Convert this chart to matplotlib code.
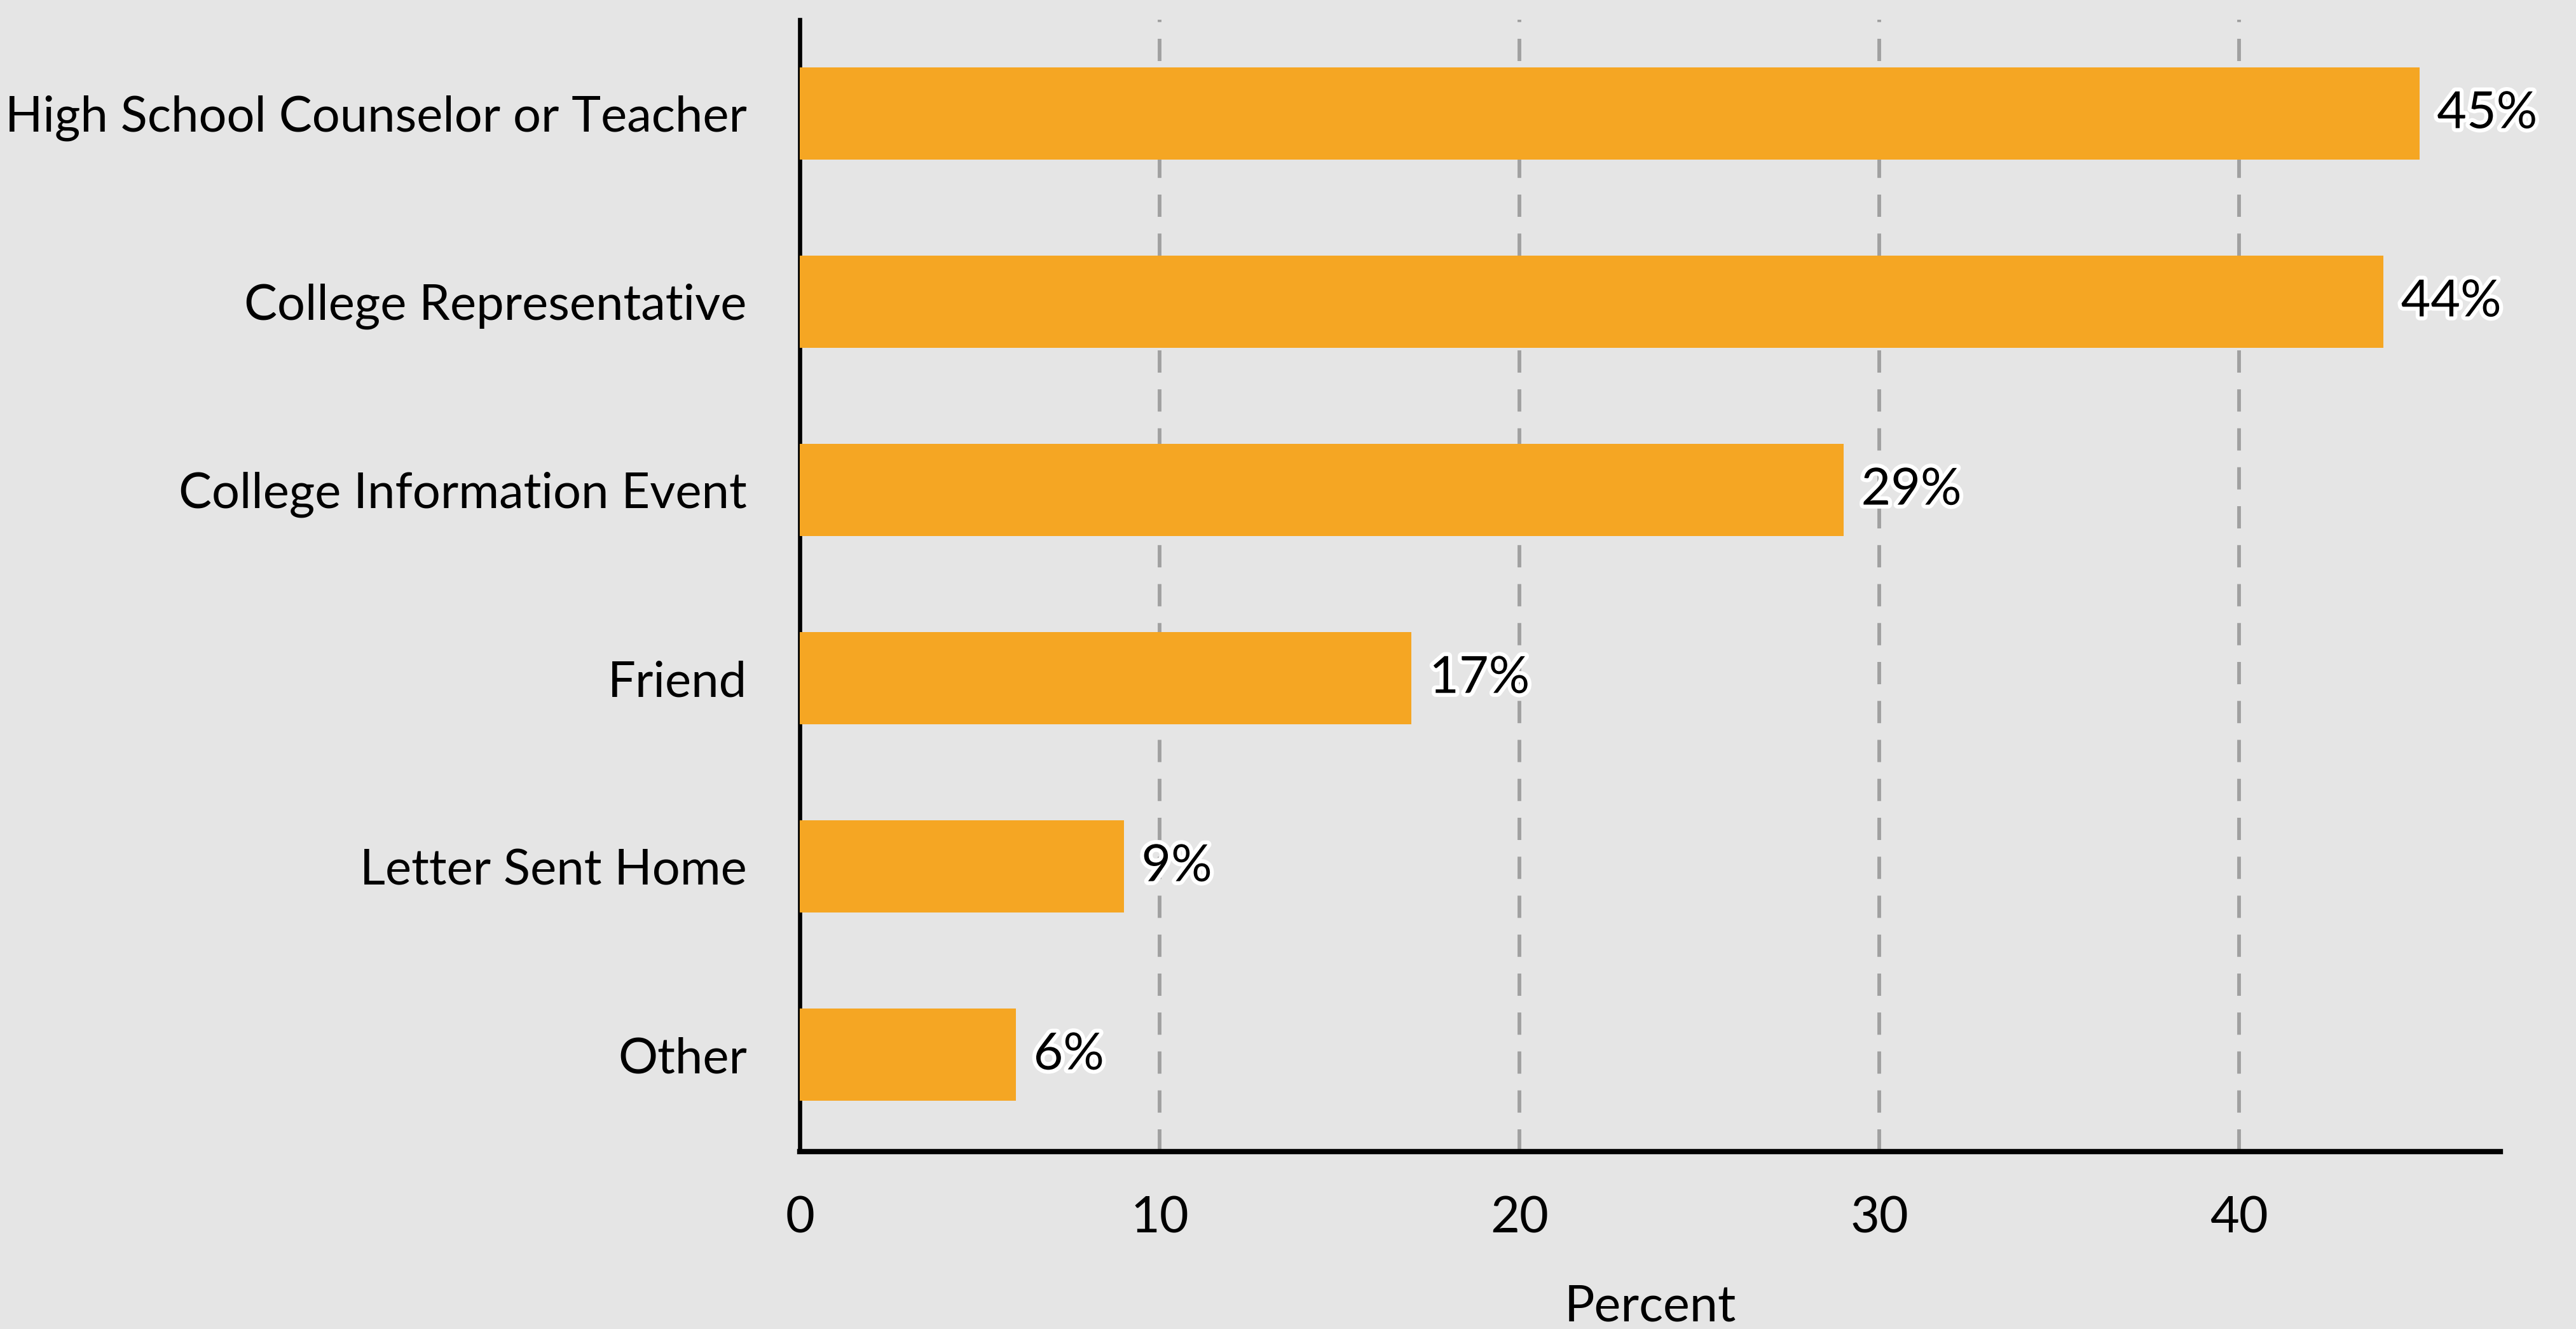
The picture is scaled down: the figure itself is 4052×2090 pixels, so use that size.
import matplotlib
matplotlib.use("Agg")
import matplotlib.pyplot as plt
import matplotlib.patheffects as pe

categories = ["High School Counselor or Teacher", "College Representative",
              "College Information Event", "Friend", "Letter Sent Home", "Other"]
values = [45, 44, 29, 17, 9, 6]
xticks = [0, 10, 20, 30, 40]

plt.rcParams['font.family'] = ['Lato', 'DejaVu Sans']
BG = "#e5e5e5"
BAR = "#f5a623"

fig = plt.figure(figsize=(40.52 / 2, 20.90 / 2), dpi=200, facecolor=BG)
ax = fig.add_axes([0.3105, 0.1334, 0.9706 - 0.3105, 0.985 - 0.1334])
ax.set_facecolor(BG)

cats = categories[::-1]
vals = values[::-1]
ypos = list(range(len(cats)))
ax.barh(ypos, vals, height=0.49, color=BAR, zorder=3)

for y, v in zip(ypos, vals):
    ax.annotate(f"{v}%", xy=(v, y), xytext=(10, 0), textcoords="offset points",
                va="center", ha="left", fontsize=29, color="black", zorder=5,
                path_effects=[pe.withStroke(linewidth=4.5, foreground="white")])

ax.set_yticks(ypos)
ax.set_yticklabels(cats, fontsize=28.0)
ax.set_xticks(xticks)
ax.set_xticklabels([str(t) for t in xticks], fontsize=28.5)
ax.set_xlim(0, 47.25)
ax.set_ylim(-0.515, 5.497)
ax.tick_params(axis="both", length=0)
ax.tick_params(axis="y", pad=30)
ax.tick_params(axis="x", pad=25)

for t in xticks[1:]:
    ax.axvline(t, color="#a0a0a0", lw=2.1, linestyle=(0, (6, 4.5)), zorder=1)

for s in ["top", "right"]:
    ax.spines[s].set_visible(False)
ax.spines["left"].set_linewidth(2.4)
ax.spines["bottom"].set_linewidth(3.0)
ax.spines["left"].set_color("black")
ax.spines["bottom"].set_color("black")

ax.set_xlabel("Percent", fontsize=28.5, labelpad=24)

fig.savefig("out.png", dpi=200, facecolor=BG)
